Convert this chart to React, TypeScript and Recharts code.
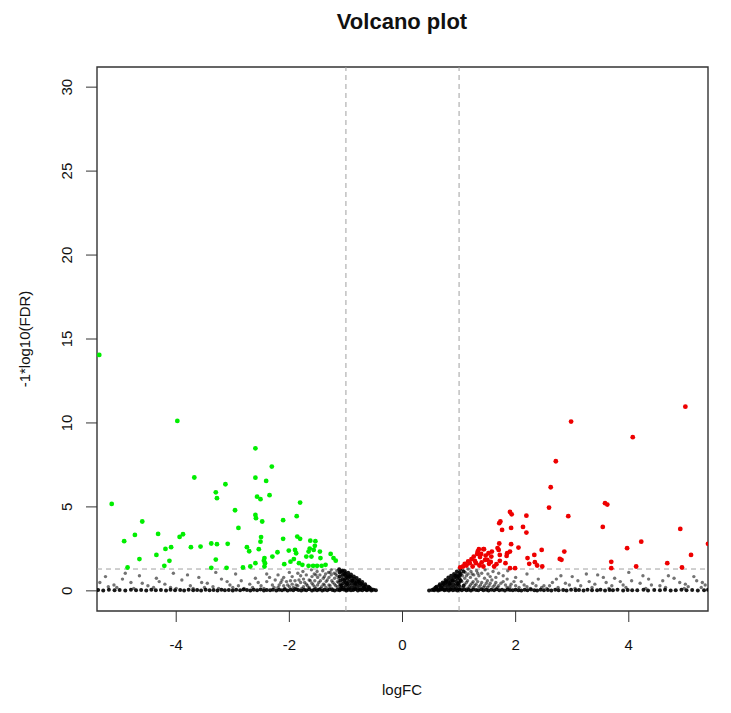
import React from "react"
import {
  ScatterChart,
  Scatter,
  XAxis,
  YAxis,
  ReferenceLine,
  ReferenceArea,
} from "recharts"

// [logFC, -log10(FDR)]
type Pt = [number, number]

const xTicks = [-4, -2, 0, 2, 4]
const yTicks = [0, 5, 10, 15, 20, 25, 30]
const fcCut = 1
const fdrCut = 1.3

// down-regulated (green)
const downGenes: Pt[] = [
  [-5.36, 14.05], [-5.45, 5.75], [-5.14, 5.18], [-3.98, 10.12], [-3.68, 6.75], [-3.13, 6.35],
  [-3.3, 5.87], [-3.28, 5.52], [-2.96, 4.8], [-2.9, 3.75], [-4.6, 4.13], [-4.73, 3.33],
  [-4.92, 2.96], [-4.32, 3.39], [-3.94, 3.21], [-3.88, 3.37], [-4.09, 2.6], [-4.19, 2.5],
  [-3.74, 2.6], [-3.57, 2.64], [-3.38, 2.82], [-3.28, 2.78], [-3.09, 2.8], [-4.65, 1.89],
  [-4.35, 2.14], [-4.12, 1.79], [-4.21, 1.49], [-4.86, 1.39], [-3.3, 1.86], [-3.38, 1.37],
  [-3.11, 1.37], [-2.82, 1.39],
  [-2.6, 8.49], [-2.31, 7.4], [-2.6, 6.74], [-2.41, 6.55], [-2.57, 5.61], [-2.51, 5.46],
  [-2.35, 5.7], [-1.81, 5.26], [-2.6, 4.52], [-2.59, 4.33], [-2.48, 4.13], [-2.11, 4.21],
  [-1.87, 4.45], [-2.5, 3.2], [-2.51, 2.93], [-2.11, 3.1], [-1.86, 3.23], [-1.81, 3.1],
  [-1.63, 2.99], [-1.54, 2.96], [-2.75, 2.6], [-2.71, 2.36], [-2.54, 2.48], [-2.21, 2.3],
  [-2.3, 2.04], [-2.01, 2.4], [-1.9, 2.44], [-1.88, 2.24], [-1.66, 2.34], [-1.57, 2.44],
  [-1.46, 2.34], [-1.61, 2.04], [-1.7, 2.04], [-1.45, 1.95], [-1.27, 2.2], [-1.22, 1.95],
  [-1.18, 1.8], [-2.44, 1.95], [-2.43, 1.65], [-2.45, 1.8], [-2.6, 1.65], [-2.69, 1.45],
  [-2.09, 1.59], [-1.98, 1.74], [-1.92, 1.89], [-1.83, 1.65], [-1.77, 1.55], [-1.66, 1.49],
  [-1.58, 1.49], [-1.51, 1.49], [-1.43, 1.49], [-1.36, 1.55], [-2.44, 1.45], [-1.64, 2.52],
  [-1.55, 2.68],
]

// up-regulated (red)
const upGenes: Pt[] = [
  [1.9, 4.7], [1.93, 4.56], [1.73, 4.13], [1.71, 4.03], [2.19, 4.48], [2.13, 3.81],
  [2.19, 3.47], [1.76, 3.63], [1.92, 3.75], [1.71, 2.82], [1.92, 2.78], [2.05, 2.58],
  [1.9, 2.34], [1.84, 2.08], [1.72, 2.14], [1.58, 2.34], [1.52, 2.24], [1.57, 2.04],
  [1.43, 2.48], [1.35, 2.48], [1.32, 2.2], [1.26, 2.04], [1.37, 2.01], [1.46, 1.85],
  [1.53, 1.61], [1.66, 1.59], [1.72, 1.79], [1.19, 1.65], [1.13, 1.51], [1.07, 1.45],
  [1.3, 1.65], [1.36, 1.51], [1.43, 1.45], [1.62, 1.45], [1.82, 1.65], [1.9, 1.35],
  [1.99, 1.35], [2.21, 1.95], [2.33, 2.14], [2.24, 1.61], [2.34, 1.71], [2.38, 1.51],
  [2.46, 2.44], [2.47, 1.45], [1.22, 1.89], [1.39, 2.2], [1.5, 1.85], [1.1, 1.6],
  [1.16, 1.75], [1.28, 1.78], [1.24, 1.45], [1.4, 1.7], [1.33, 2.35], [1.47, 2.1],
  [1.56, 1.72], [1.02, 1.4], [1.68, 2.55], [1.7, 2.44], [1.85, 2.24], [1.44, 2.48],
  [2.98, 10.08], [2.71, 7.72], [2.62, 6.17], [2.59, 4.96], [2.93, 4.45], [2.86, 2.34],
  [2.78, 1.9], [2.81, 1.85], [3.54, 3.81], [3.58, 5.22], [3.62, 5.14], [3.69, 1.73],
  [3.69, 1.35], [3.97, 2.54], [4.07, 9.15], [4.22, 2.93], [4.13, 1.45], [4.68, 1.65],
  [4.91, 3.69], [4.94, 1.39], [5.0, 10.97], [5.1, 2.14], [5.4, 2.8],
]

// not significant (black), bottom row
const otherBaseRight: Pt[] = [
  [0.47, 0.02], [0.52, 0.05], [0.56, 0.03], [0.6, 0.08], [0.63, 0.02], [0.67, 0.06], [0.71, 0.1],
  [0.74, 0.03], [0.78, 0.07], [0.82, 0.02], [0.85, 0.09], [0.89, 0.04], [0.93, 0.06], [0.97, 0.02],
  [1.01, 0.08], [1.05, 0.04], [1.09, 0.1], [1.13, 0.03], [1.17, 0.06], [1.21, 0.02], [1.25, 0.08],
  [1.3, 0.05], [1.34, 0.03], [1.39, 0.09], [1.43, 0.04], [1.48, 0.06], [1.52, 0.02], [1.57, 0.07],
  [1.62, 0.04], [1.66, 0.1], [1.71, 0.03], [1.76, 0.06], [1.81, 0.02], [1.86, 0.08], [1.9, 0.05],
  [1.95, 0.03], [2.0, 0.07], [2.05, 0.04], [2.1, 0.02], [2.16, 0.06], [2.21, 0.03], [2.27, 0.08],
  [2.33, 0.04], [2.38, 0.02], [2.44, 0.06], [2.5, 0.03], [2.57, 0.05], [2.63, 0.02], [2.7, 0.07],
  [2.76, 0.03], [2.84, 0.05], [2.9, 0.02], [2.98, 0.06], [3.06, 0.03], [3.12, 0.05], [3.2, 0.02],
  [3.27, 0.07], [3.35, 0.04], [3.44, 0.03], [3.5, 0.06], [3.58, 0.02], [3.66, 0.05], [3.72, 0.03],
  [3.8, 0.06], [3.9, 0.02], [3.98, 0.05], [4.06, 0.03], [4.15, 0.04], [4.26, 0.06], [4.34, 0.02],
  [4.45, 0.05], [4.55, 0.03], [4.64, 0.06], [4.74, 0.02], [4.83, 0.04], [4.93, 0.06], [5.02, 0.03],
  [5.12, 0.05], [5.22, 0.02], [5.33, 0.04], [5.4, 0.06],
]

// solid wedge next to the origin, right side
const otherWedgeRight: Pt[] = [
  [0.55, 0.1], [0.6, 0.15], [0.6, 0.25], [0.65, 0.1], [0.65, 0.3], [0.66, 0.4], [0.7, 0.15],
  [0.7, 0.32], [0.71, 0.5], [0.75, 0.1], [0.75, 0.3], [0.76, 0.5], [0.76, 0.65], [0.8, 0.2],
  [0.8, 0.4], [0.81, 0.6], [0.81, 0.8], [0.85, 0.1], [0.85, 0.3], [0.85, 0.5], [0.86, 0.7],
  [0.86, 0.9], [0.9, 0.2], [0.9, 0.4], [0.9, 0.6], [0.91, 0.8], [0.91, 1.0], [0.95, 0.15],
  [0.95, 0.35], [0.95, 0.55], [0.96, 0.75], [0.96, 0.95], [0.96, 1.15], [1.0, 0.1], [1.0, 0.3],
  [1.0, 0.5], [1.01, 0.7], [1.01, 0.9], [1.01, 1.1], [1.02, 1.3],
  [0.58, 0.18], [0.68, 0.22], [0.73, 0.42], [0.78, 0.55], [0.83, 0.42], [0.88, 0.62], [0.93, 0.9],
  [0.98, 0.42], [0.98, 0.85], [1.03, 0.62], [1.03, 1.0], [1.08, 0.3], [1.08, 1.15],
]

const otherCloudRight: Pt[] = [
  [1.05, 0.2], [1.05, 0.55], [1.06, 0.9], [1.06, 1.25], [1.1, 0.4], [1.1, 0.75], [1.11, 1.1],
  [1.15, 0.15], [1.15, 0.6], [1.16, 1.0], [1.16, 1.3], [1.2, 0.35], [1.2, 0.8], [1.21, 1.15],
  [1.25, 0.2], [1.25, 0.55], [1.26, 0.95], [1.3, 0.4], [1.3, 0.7], [1.31, 1.2], [1.35, 0.25],
  [1.35, 0.9], [1.4, 0.5], [1.4, 1.05], [1.45, 0.3], [1.45, 0.75], [1.46, 1.25], [1.5, 0.2],
  [1.5, 0.6], [1.51, 1.0], [1.55, 0.45], [1.55, 0.85], [1.6, 0.25], [1.6, 1.15], [1.65, 0.5],
  [1.65, 0.8], [1.7, 0.3], [1.7, 1.05], [1.78, 0.55], [1.78, 0.9], [1.85, 0.2], [1.85, 0.7],
  [1.86, 1.2], [1.92, 0.4], [2.0, 0.3], [2.0, 0.8], [2.1, 0.55], [2.2, 0.25], [2.2, 1.0],
  [2.3, 0.45], [2.4, 0.7], [2.5, 0.3],
  [2.6, 0.3], [2.65, 0.5], [2.72, 0.7], [2.8, 0.9], [2.88, 0.45], [2.95, 0.35], [3.0, 0.85],
  [3.1, 0.6], [3.15, 0.3], [3.25, 1.0], [3.3, 0.55], [3.4, 0.4], [3.45, 0.95], [3.55, 0.8],
  [3.6, 0.5], [3.7, 0.3], [3.75, 0.75], [3.85, 0.55], [3.9, 0.35], [4.0, 1.1], [4.05, 0.6],
  [4.2, 0.45], [4.25, 0.9], [4.35, 0.7], [4.4, 0.35], [4.55, 0.3], [4.6, 0.6], [4.7, 0.9],
  [4.8, 0.75], [4.9, 0.5], [5.0, 0.4], [5.05, 0.25], [5.15, 0.85], [5.2, 0.6], [5.3, 0.5],
  [5.35, 0.35],
  [1.13, 0.5], [1.13, 0.9], [1.18, 0.25], [1.23, 0.45], [1.23, 1.0], [1.28, 0.3], [1.33, 0.55],
  [1.33, 1.05], [1.38, 0.35], [1.43, 0.2], [1.48, 0.45], [1.53, 0.3], [1.58, 0.65], [1.63, 0.35],
  [1.68, 0.2], [1.74, 0.45], [1.82, 0.35], [1.9, 0.25], [1.97, 0.55], [2.06, 0.2], [2.15, 0.35],
  [2.26, 0.15], [2.36, 0.3], [2.46, 0.2], [2.55, 0.15], [2.75, 0.2], [3.05, 0.15], [3.35, 0.2],
  [3.65, 0.15], [3.95, 0.2], [4.3, 0.15], [4.65, 0.2], [4.98, 0.15], [5.28, 0.2],
]

const otherBaseLeft: Pt[] = [
  [-0.47, 0.03], [-0.51, 0.06], [-0.55, 0.02], [-0.59, 0.08], [-0.63, 0.04], [-0.67, 0.1],
  [-0.71, 0.03], [-0.75, 0.06], [-0.79, 0.02], [-0.83, 0.09], [-0.87, 0.05], [-0.91, 0.03],
  [-0.95, 0.07], [-0.99, 0.02], [-1.03, 0.06], [-1.07, 0.1], [-1.11, 0.03], [-1.15, 0.07],
  [-1.2, 0.02], [-1.24, 0.05], [-1.29, 0.09], [-1.33, 0.03], [-1.38, 0.06], [-1.42, 0.02],
  [-1.47, 0.08], [-1.51, 0.04], [-1.56, 0.06], [-1.6, 0.02], [-1.65, 0.1], [-1.7, 0.04],
  [-1.74, 0.07], [-1.79, 0.02], [-1.84, 0.05], [-1.88, 0.09], [-1.93, 0.03], [-1.98, 0.06],
  [-2.03, 0.02], [-2.08, 0.08], [-2.13, 0.04], [-2.18, 0.06], [-2.23, 0.02], [-2.29, 0.07],
  [-2.34, 0.03], [-2.4, 0.05], [-2.45, 0.02], [-2.51, 0.08], [-2.57, 0.04], [-2.63, 0.06],
  [-2.69, 0.02], [-2.75, 0.05], [-2.81, 0.08], [-2.87, 0.03], [-2.94, 0.06], [-3.0, 0.02],
  [-3.07, 0.05], [-3.14, 0.03], [-3.2, 0.07], [-3.27, 0.02], [-3.34, 0.05], [-3.41, 0.03],
  [-3.48, 0.06], [-3.56, 0.02], [-3.63, 0.05], [-3.7, 0.03], [-3.78, 0.06], [-3.86, 0.02],
  [-3.93, 0.05], [-4.02, 0.03], [-4.1, 0.06], [-4.18, 0.02], [-4.27, 0.05], [-4.36, 0.03],
  [-4.44, 0.06], [-4.53, 0.02], [-4.62, 0.05], [-4.71, 0.03], [-4.8, 0.06], [-4.9, 0.02],
  [-5.0, 0.05], [-5.09, 0.03], [-5.19, 0.06], [-5.29, 0.02], [-5.38, 0.05],
]

// solid wedge next to the origin, left side
const otherWedgeLeft: Pt[] = [
  [-0.55, 0.1], [-0.6, 0.12], [-0.6, 0.25], [-0.65, 0.08], [-0.65, 0.28], [-0.66, 0.4],
  [-0.7, 0.15], [-0.7, 0.35], [-0.71, 0.52], [-0.75, 0.1], [-0.75, 0.3], [-0.76, 0.48],
  [-0.76, 0.64], [-0.8, 0.2], [-0.8, 0.4], [-0.81, 0.58], [-0.81, 0.76], [-0.85, 0.12],
  [-0.85, 0.32], [-0.85, 0.5], [-0.86, 0.7], [-0.86, 0.86], [-0.9, 0.22], [-0.9, 0.42],
  [-0.9, 0.62], [-0.91, 0.82], [-0.91, 0.98], [-0.95, 0.15], [-0.95, 0.35], [-0.95, 0.55],
  [-0.96, 0.75], [-0.96, 0.92], [-0.96, 1.08], [-1.0, 0.1], [-1.0, 0.3], [-1.0, 0.5],
  [-1.01, 0.7], [-1.01, 0.9], [-1.01, 1.05], [-1.02, 1.18], [-1.05, 0.2], [-1.05, 0.45],
  [-1.06, 0.7], [-1.06, 0.95], [-1.06, 1.2], [-1.1, 0.12], [-1.1, 0.35], [-1.1, 0.6],
  [-1.11, 0.85], [-1.11, 1.1], [-1.12, 1.28],
  [-0.58, 0.18], [-0.68, 0.22], [-0.73, 0.42], [-0.78, 0.55], [-0.83, 0.42], [-0.88, 0.6],
  [-0.93, 0.85], [-0.98, 0.42], [-0.98, 0.82], [-1.03, 0.62], [-1.03, 1.0], [-1.08, 0.3],
  [-1.08, 1.15],
]

const otherCloudLeft: Pt[] = [
  [-1.15, 0.25], [-1.15, 0.55], [-1.16, 0.9], [-1.16, 1.2], [-1.2, 0.4], [-1.2, 0.75],
  [-1.21, 1.05], [-1.25, 0.15], [-1.25, 0.6], [-1.26, 0.95], [-1.26, 1.25], [-1.3, 0.35],
  [-1.3, 0.8], [-1.31, 1.1], [-1.35, 0.2], [-1.35, 0.55], [-1.36, 1.0], [-1.4, 0.4],
  [-1.4, 0.75], [-1.41, 1.2], [-1.45, 0.15], [-1.45, 0.6], [-1.46, 0.95], [-1.5, 0.35],
  [-1.5, 0.8], [-1.51, 1.15], [-1.55, 0.25], [-1.55, 0.6], [-1.56, 1.0], [-1.6, 0.45],
  [-1.6, 0.85], [-1.61, 1.25], [-1.65, 0.2], [-1.65, 0.65], [-1.7, 0.4], [-1.7, 0.95],
  [-1.75, 0.25], [-1.75, 0.7], [-1.76, 1.15], [-1.8, 0.5], [-1.8, 0.9], [-1.85, 0.3],
  [-1.85, 1.05], [-1.9, 0.15], [-1.9, 0.6], [-1.95, 0.4], [-1.95, 0.85], [-2.0, 0.25],
  [-2.0, 1.1], [-2.05, 0.55], [-2.1, 0.3], [-2.1, 0.8], [-2.15, 0.5], [-2.2, 0.2], [-2.2, 0.95],
  [-2.25, 0.65], [-2.3, 0.35], [-2.4, 0.55], [-2.4, 1.0], [-2.5, 0.3], [-2.6, 0.75], [-2.7, 0.4],
  [-2.85, 0.6], [-2.9, 0.3], [-2.95, 1.0], [-3.05, 0.35], [-3.1, 0.55], [-3.2, 0.7], [-3.3, 1.1],
  [-3.35, 0.25], [-3.45, 0.45], [-3.55, 0.5], [-3.6, 0.8], [-3.75, 0.3], [-3.8, 0.95],
  [-3.9, 0.65], [-4.05, 1.05], [-4.1, 0.2], [-4.2, 0.4], [-4.3, 0.55], [-4.35, 0.75], [-4.5, 0.3],
  [-4.6, 0.45], [-4.65, 0.9], [-4.8, 0.5], [-4.9, 1.05], [-4.95, 0.7], [-5.1, 0.35],
  [-5.2, 0.25], [-5.25, 0.85], [-5.35, 0.5],
  [-1.13, 0.5], [-1.13, 0.75], [-1.18, 0.3], [-1.18, 1.0], [-1.23, 0.5], [-1.28, 0.3],
  [-1.28, 1.1], [-1.33, 0.65], [-1.38, 0.35], [-1.38, 0.85], [-1.43, 0.25], [-1.48, 0.5],
  [-1.53, 0.15], [-1.53, 0.95], [-1.58, 0.35], [-1.63, 0.6], [-1.68, 0.3], [-1.73, 0.5],
  [-1.78, 0.15], [-1.83, 0.65], [-1.88, 0.35], [-1.93, 0.2], [-1.98, 0.6], [-2.03, 0.35],
  [-2.08, 0.15], [-2.13, 0.65], [-2.18, 0.35], [-2.27, 0.2], [-2.35, 0.8], [-2.45, 0.15],
  [-2.55, 0.5], [-2.65, 0.2], [-2.8, 0.15], [-3.0, 0.2], [-3.25, 0.15], [-3.5, 0.2], [-3.7, 0.15],
  [-4.0, 0.15], [-4.4, 0.2], [-4.75, 0.15], [-5.05, 0.2],
]

const rows = (pts: Pt[]) => pts.map(([logFC, fdr]) => ({ logFC, fdr }))

const solidRows = rows([...otherBaseLeft, ...otherWedgeLeft, ...otherBaseRight, ...otherWedgeRight])
const cloudRows = rows([...otherCloudLeft, ...otherCloudRight])

const FONT = "'Liberation Sans', Arial, Helvetica, sans-serif"

const dot = (fill: string, r: number, opacity = 1) => (p: any) =>
  <circle cx={p.cx} cy={p.cy} r={r} fill={fill} fillOpacity={opacity} />

// y tick labels are rotated like R's default las = 0
const YTick = ({ x, y, payload }: any) => (
  <text
    x={x}
    y={y}
    transform={`rotate(-90 ${x} ${y})`}
    textAnchor="middle"
    fontSize={15}
    fontFamily={FONT}
    fill="#111"
  >
    {payload?.value}
  </text>
)

export default function App() {
  return (
    <div style={{ position: "absolute", left: 0, top: 0, width: 731, height: 713, background: "#fff" }}>
      <ScatterChart width={731} height={713} margin={{ top: 67, right: 23, bottom: 0, left: 0 }}>
        <XAxis
          type="number"
          dataKey="logFC"
          domain={[-5.4, 5.4]}
          ticks={xTicks}
          allowDataOverflow
          height={102}
          tickSize={11}
          tickMargin={17}
          axisLine={false}
          tickLine={{ stroke: "#333" }}
          tick={{ fill: "#111", fontSize: 15, fontFamily: FONT }}
        />
        <YAxis
          type="number"
          dataKey="fdr"
          domain={[-1.2, 31.2]}
          ticks={yTicks}
          allowDataOverflow
          width={97}
          tickSize={11}
          tickMargin={14}
          axisLine={false}
          tickLine={{ stroke: "#333" }}
          tick={<YTick />}
        />
        <Scatter data={cloudRows} shape={dot("#000", 1.7, 0.55)} isAnimationActive={false} />
        <Scatter data={solidRows} shape={dot("#000", 2, 0.9)} isAnimationActive={false} />
        <Scatter data={rows(downGenes)} shape={dot("#00ee00", 2.4)} isAnimationActive={false} />
        <Scatter data={rows(upGenes)} shape={dot("#ee0000", 2.4)} isAnimationActive={false} />
        <ReferenceLine x={-fcCut} stroke="#a0a0a0" strokeDasharray="5 4" />
        <ReferenceLine x={fcCut} stroke="#a0a0a0" strokeDasharray="5 4" />
        <ReferenceLine y={fdrCut} stroke="#a0a0a0" strokeDasharray="5 4" />
        <ReferenceArea x1={-5.4} x2={5.4} y1={-1.2} y2={31.2} fill="none" stroke="#333" strokeWidth={1.4} />
      </ScatterChart>
      <svg
        width={731}
        height={713}
        style={{ position: "absolute", left: 0, top: 0, pointerEvents: "none" }}
        fontFamily={FONT}
      >
        <text x={402} y={29} textAnchor="middle" fontSize={22} fontWeight="bold" fill="#111">
          Volcano plot
        </text>
        <text x={402} y={695} textAnchor="middle" fontSize={15} fill="#111">
          logFC
        </text>
        <text x={30} y={339} transform="rotate(-90 30 339)" textAnchor="middle" fontSize={15} fill="#111">
          -1*log10(FDR)
        </text>
      </svg>
    </div>
  )
}
